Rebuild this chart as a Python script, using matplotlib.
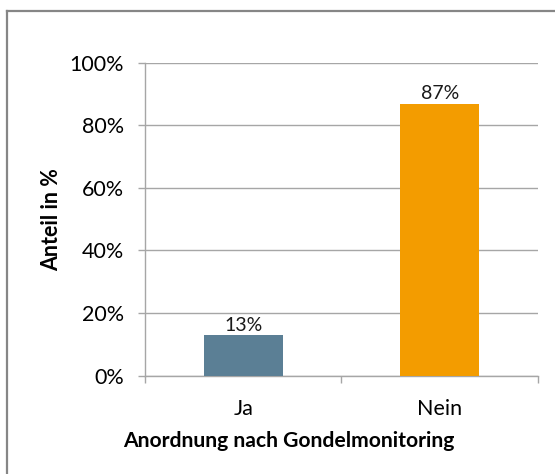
import matplotlib.pyplot as plt
from matplotlib.lines import Line2D

# ============================================================
# Data
# ============================================================
categories = ['Ja', 'Nein']
shares = [13, 87]
bar_colors = ['#5b7f95', '#f39c00']
y_ticks = [0, 20, 40, 60, 80, 100]

plt.rcParams['font.family'] = ['Lato', 'DejaVu Sans']

fig = plt.figure(figsize=(5.55, 4.74), dpi=100)
fig.patch.set_facecolor('white')
fig.patch.set_linewidth(0)
ax = fig.add_axes([0.2613, 0.2078, 0.708, 0.6593])

# outer chart frame: only left and top edges are inside the picture
fx, fy = 6.5 / 555, 1 - 10.5 / 474
fig.lines.append(Line2D([fx, fx], [-0.05, fy], transform=fig.transFigure,
                        color='#868686', linewidth=1.6, solid_capstyle='projecting'))
fig.lines.append(Line2D([fx, 1.05], [fy, fy], transform=fig.transFigure,
                        color='#868686', linewidth=1.6, solid_capstyle='projecting'))

x = range(len(categories))
bars = ax.bar(x, shares, width=0.4, color=bar_colors, zorder=3)
for b, v in zip(bars, shares):
    ax.text(b.get_x() + b.get_width() / 2, v + 0.4, f'{v}%',
            ha='center', va='bottom', fontsize=14, color='#1a1a1a')

ax.set_xlim(-0.5, 1.5)
ax.set_ylim(0, 100)
ax.set_yticks(y_ticks)
ax.set_yticklabels([f'{t}%' for t in y_ticks], fontsize=15.5)
ax.yaxis.grid(True, color='#a6a6a6', linewidth=1, zorder=0)

ax.set_xticks(list(x))
ax.set_xticklabels(categories, fontsize=15.5)
ax.tick_params(axis='x', length=0, pad=17)
ax.set_xticks([-0.5, 0.5, 1.5], minor=True)
ax.tick_params(axis='x', which='minor', length=5, color='#a6a6a6', width=1)
ax.tick_params(axis='y', length=5, color='#a6a6a6', width=1, pad=10)

for s in ['top', 'right']:
    ax.spines[s].set_visible(False)
for s in ['left', 'bottom']:
    ax.spines[s].set_color('#a6a6a6')
    ax.spines[s].set_linewidth(1)

ax.set_xlabel('Anordnung nach Gondelmonitoring', fontsize=15.2,
              fontweight='bold')
ax.xaxis.set_label_coords((289 - 145) / 393, (375.5 - 441) / 312.5)
ax.xaxis.label.set_va('center')
ax.set_ylabel('Anteil in %', fontsize=15.5, fontweight='bold')
ax.yaxis.set_label_coords((52 - 145) / 393, 0.5)
ax.yaxis.label.set_va('center')

fig.savefig('out.png', dpi=100)
